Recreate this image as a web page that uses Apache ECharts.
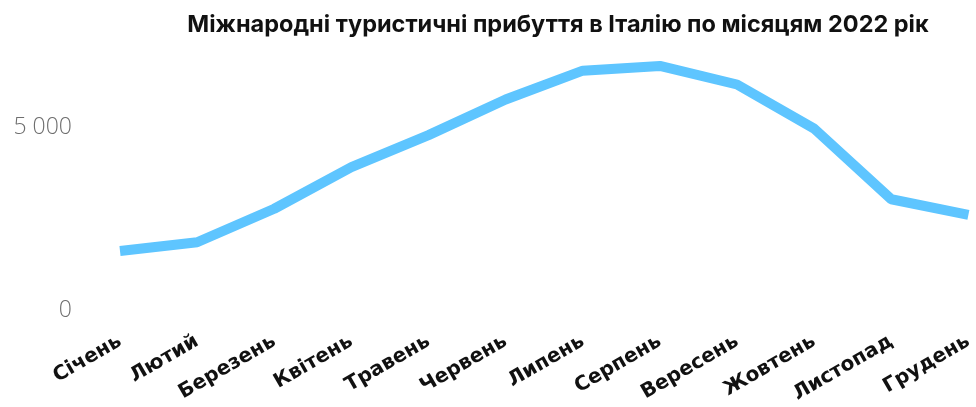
<!DOCTYPE html>
<html>
<head>
<meta charset="utf-8">
<script src="https://cdn.jsdelivr.net/npm/echarts@6/dist/echarts.min.js"></script>
<style>
  html, body { margin: 0; padding: 0; background: #fff; }
  #chart { width: 976px; height: 407px; }
</style>
</head>
<body>
<div id="chart"></div>
<script>
// Monthly international tourist arrivals to Italy, 2022 (thousands)
const titleText = 'Міжнародні туристичні прибуття в Італію по місяцям 2022 рік';
const months = ['Січень', 'Лютий', 'Березень', 'Квітень', 'Травень', 'Червень',
                'Липень', 'Серпень', 'Вересень', 'Жовтень', 'Листопад', 'Грудень'];
const arrivals = [1620, 1860, 2780, 3920, 4800, 5780, 6570, 6700, 6190, 4980, 3040, 2610];
const yTicks = [0, 5000];

const chart = echarts.init(document.getElementById('chart'));
chart.setOption({
  animation: false,
  title: {
    text: titleText,
    left: 553,
    textAlign: 'center',
    top: 8,
    textStyle: { fontFamily: 'Inter', fontWeight: 700, fontSize: 23.5, color: '#111' }
  },
  grid: { left: 120, right: 0, top: 55, bottom: 97, containLabel: false },
  xAxis: {
    type: 'category',
    data: months,
    boundaryGap: false,
    axisLine: { show: false },
    axisTick: { show: false },
    axisLabel: {
      rotate: 30,
      interval: 0,
      margin: 30,
      fontFamily: 'DejaVu Sans',
      fontWeight: 700,
      fontSize: 20,
      color: '#111'
    }
  },
  yAxis: {
    type: 'value',
    min: 0,
    max: 7000,
    interval: 5000,
    splitLine: { show: false },
    axisLine: { show: false },
    axisTick: { show: false },
    axisLabel: {
      margin: 48,
      fontFamily: 'Open Sans',
      fontWeight: 300,
      fontSize: 23,
      color: '#6e6e6e',
      formatter: v => yTicks.includes(v) ? String(v).replace(/\B(?=(\d{3})+(?!\d))/g, ' ') : ''
    }
  },
  series: [{
    type: 'line',
    data: arrivals,
    symbol: 'none',
    lineStyle: { color: '#5ec5ff', width: 10, join: 'bevel' }
  }]
});
</script>
</body>
</html>
